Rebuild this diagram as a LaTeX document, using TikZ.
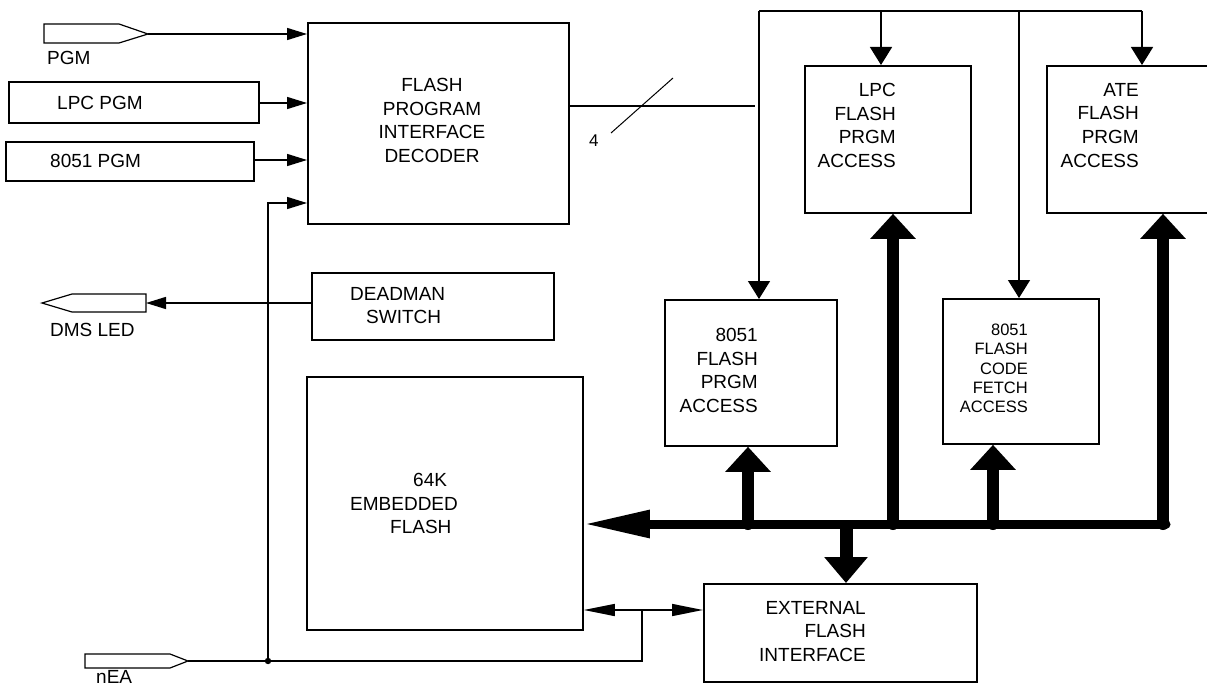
\documentclass[tikz,border=0pt]{standalone}
\usepackage{fontspec}
\setmainfont{Liberation Sans}
\usetikzlibrary{arrows.meta}
\begin{document}
\begin{tikzpicture}[x=1pt,y=-1pt,
  box/.style={draw, line width=1.8pt, inner sep=0pt, anchor=north west},
  txt/.style={inner sep=0pt, font=\fontsize{19}{23.7}\selectfont},
  smalltxt/.style={inner sep=0pt, font=\fontsize{16.5}{19.2}\selectfont},
  port/.style={draw, line width=1.2pt, fill=white},
  wire/.style={line width=1.5pt},
  inarr/.style={wire, -{Triangle[length=20pt,width=12pt]}},
  droparr/.style={wire, -{Triangle[length=18pt,width=22pt]}},
  biarr/.style={wire, {Triangle[length=31pt,width=12pt]}-{Triangle[length=31pt,width=12pt]}},
  thickarr/.style={line width=12pt, line cap=round, -{Triangle[length=25pt,width=44pt]}},
  downarr/.style={line width=13pt, -{Triangle[length=26pt,width=42pt]}},
  busarr/.style={line width=9pt, line cap=round, -{Triangle[length=66pt,width=26pt]}}]
\useasboundingbox (0,0) rectangle (1207,685);
\clip (0,0) rectangle (1207,685);

% boxes
\node[box, minimum width=261pt, minimum height=201pt] (dec) at (307,22) {};
\node[box, minimum width=250pt, minimum height=41pt] (lpcpgm) at (8,81) {};
\node[box, minimum width=248pt, minimum height=39pt] (pgm8051) at (5,141) {};
\node[box, minimum width=242pt, minimum height=67pt] (dms) at (311,272) {};
\node[box, minimum width=276pt, minimum height=253pt] (emb) at (306,376) {};
\node[box, minimum width=166pt, minimum height=147pt] (lpcacc) at (804,65) {};
\node[box, minimum width=180pt, minimum height=147pt] (ateacc) at (1046,65) {};
\node[box, minimum width=172pt, minimum height=146pt] (acc8051) at (664,299) {};
\node[box, minimum width=156pt, minimum height=145pt] (fetch) at (942,298) {};
\node[box, minimum width=273pt, minimum height=98pt] (ext) at (703,583) {};

% box texts
\node[txt, anchor=north, align=center] (dect) at (432,78) {FLASH\\PROGRAM\\INTERFACE\\DECODER};
\node[txt, anchor=north east, align=right] (lpct) at (896,83) {LPC\\FLASH\\PRGM\\ACCESS};
\node[txt, anchor=north east, align=right] (atet) at (1139,83) {ATE\\FLASH\\PRGM\\ACCESS};
\node[txt, anchor=north east, align=right] (acct) at (758,328) {8051\\FLASH\\PRGM\\ACCESS};
\node[smalltxt, anchor=north east, align=right] (fetcht) at (1028,324) {8051\\FLASH\\CODE\\FETCH\\ACCESS};
\node[txt, anchor=north east, align=right] (extt) at (866,601) {EXTERNAL\\FLASH\\INTERFACE};
\node[txt, anchor=north west, align=left] (embt) at (350,473) {\hspace*{63pt}64K\\EMBEDDED\\\hspace*{40pt}FLASH};
\node[txt, anchor=north west, align=left] (dmst) at (350,287) {DEADMAN\\\hspace*{16pt}SWITCH};
\node[txt, anchor=base west] (lpcpgmt) at (57,109) {LPC PGM};
\node[txt, anchor=base west] (pgm8051t) at (50,167) {8051 PGM};

% ports
\draw[port] (44,24) -- (119,24) -- (148,34) -- (119,43) -- (44,43) -- cycle;
\coordinate (pgmtip) at (148,34);
\draw[port] (42,303) -- (72,294) -- (146,294) -- (146,312) -- (72,312) -- cycle;
\coordinate (dmstip) at (146,303);
\draw[port] (85,654) -- (170,654) -- (188,661) -- (170,668) -- (85,668) -- cycle;
\coordinate (neatip) at (188,661);
\node[txt, anchor=base west] (pgml) at (47,65) {PGM};
\node[txt, anchor=base west] (dmsl) at (50,336) {DMS LED};
\node[txt, anchor=base west] (neal) at (96,683) {nEA};

% inputs to decoder
\draw[inarr] (pgmtip) -- (dec.west |- pgmtip);
\coordinate (lpcin) at (258,103);
\draw[inarr] (lpcin) -- (dec.west |- lpcin);
\coordinate (in8051) at (253,160);
\draw[inarr] (in8051) -- (dec.west |- in8051);

% nEA wiring
\coordinate (j1) at (268,661);
\coordinate (k1) at (268,203);
\coordinate (j2) at (642,661);
\coordinate (j3) at (642,610);
\draw[wire] (neatip) -- (j2) -- (j3);
\draw[inarr] (j1) -- (k1) -- (dec.west |- k1);
\fill (j1) circle (3.2);
\draw[biarr] (emb.east |- j3) -- (ext.west |- j3);

% deadman
\draw[inarr] (dms.west |- dmstip) -- (dmstip);

% decoder output bus
\coordinate (busend) at (755,106);
\draw[wire] (dec.east |- busend) -- (busend);
\coordinate (sl1) at (611,133);
\coordinate (sl2) at (673,78);
\draw[line width=1pt] (sl1) -- (sl2);
\node[inner sep=0pt, font=\fontsize{17}{20}\selectfont, anchor=base west] (four) at (589,146) {4};

% top distribution
\coordinate (t0) at (759,11);
\coordinate (t1) at (881,11);
\coordinate (t2) at (1019,11);
\coordinate (t3) at (1142,11);
\draw[wire] (t0) -- (t3);
\draw[droparr] (t0) -- (t0 |- acc8051.north);
\draw[droparr] (t1) -- (t1 |- lpcacc.north);
\draw[droparr] (t2) -- (t2 |- fetch.north);
\draw[droparr] (t3) -- (t3 |- ateacc.north);

% thick data bus
\coordinate (b0) at (1166,524);
\coordinate (ba) at (748,524);
\coordinate (bb) at (893,524);
\coordinate (bc) at (993,524);
\coordinate (bd) at (1163,524);
\coordinate (be) at (846,524);
\draw[thickarr] (ba) -- (ba |- acc8051.south);
\draw[thickarr] (bb) -- (bb |- lpcacc.south);
\draw[thickarr] (bc) -- (bc |- fetch.south);
\draw[thickarr] (bd) -- (bd |- ateacc.south);
\draw[downarr] (be) -- (be |- ext.north);
\draw[busarr] (b0) -- (emb.east |- b0);
\end{tikzpicture}
\end{document}
